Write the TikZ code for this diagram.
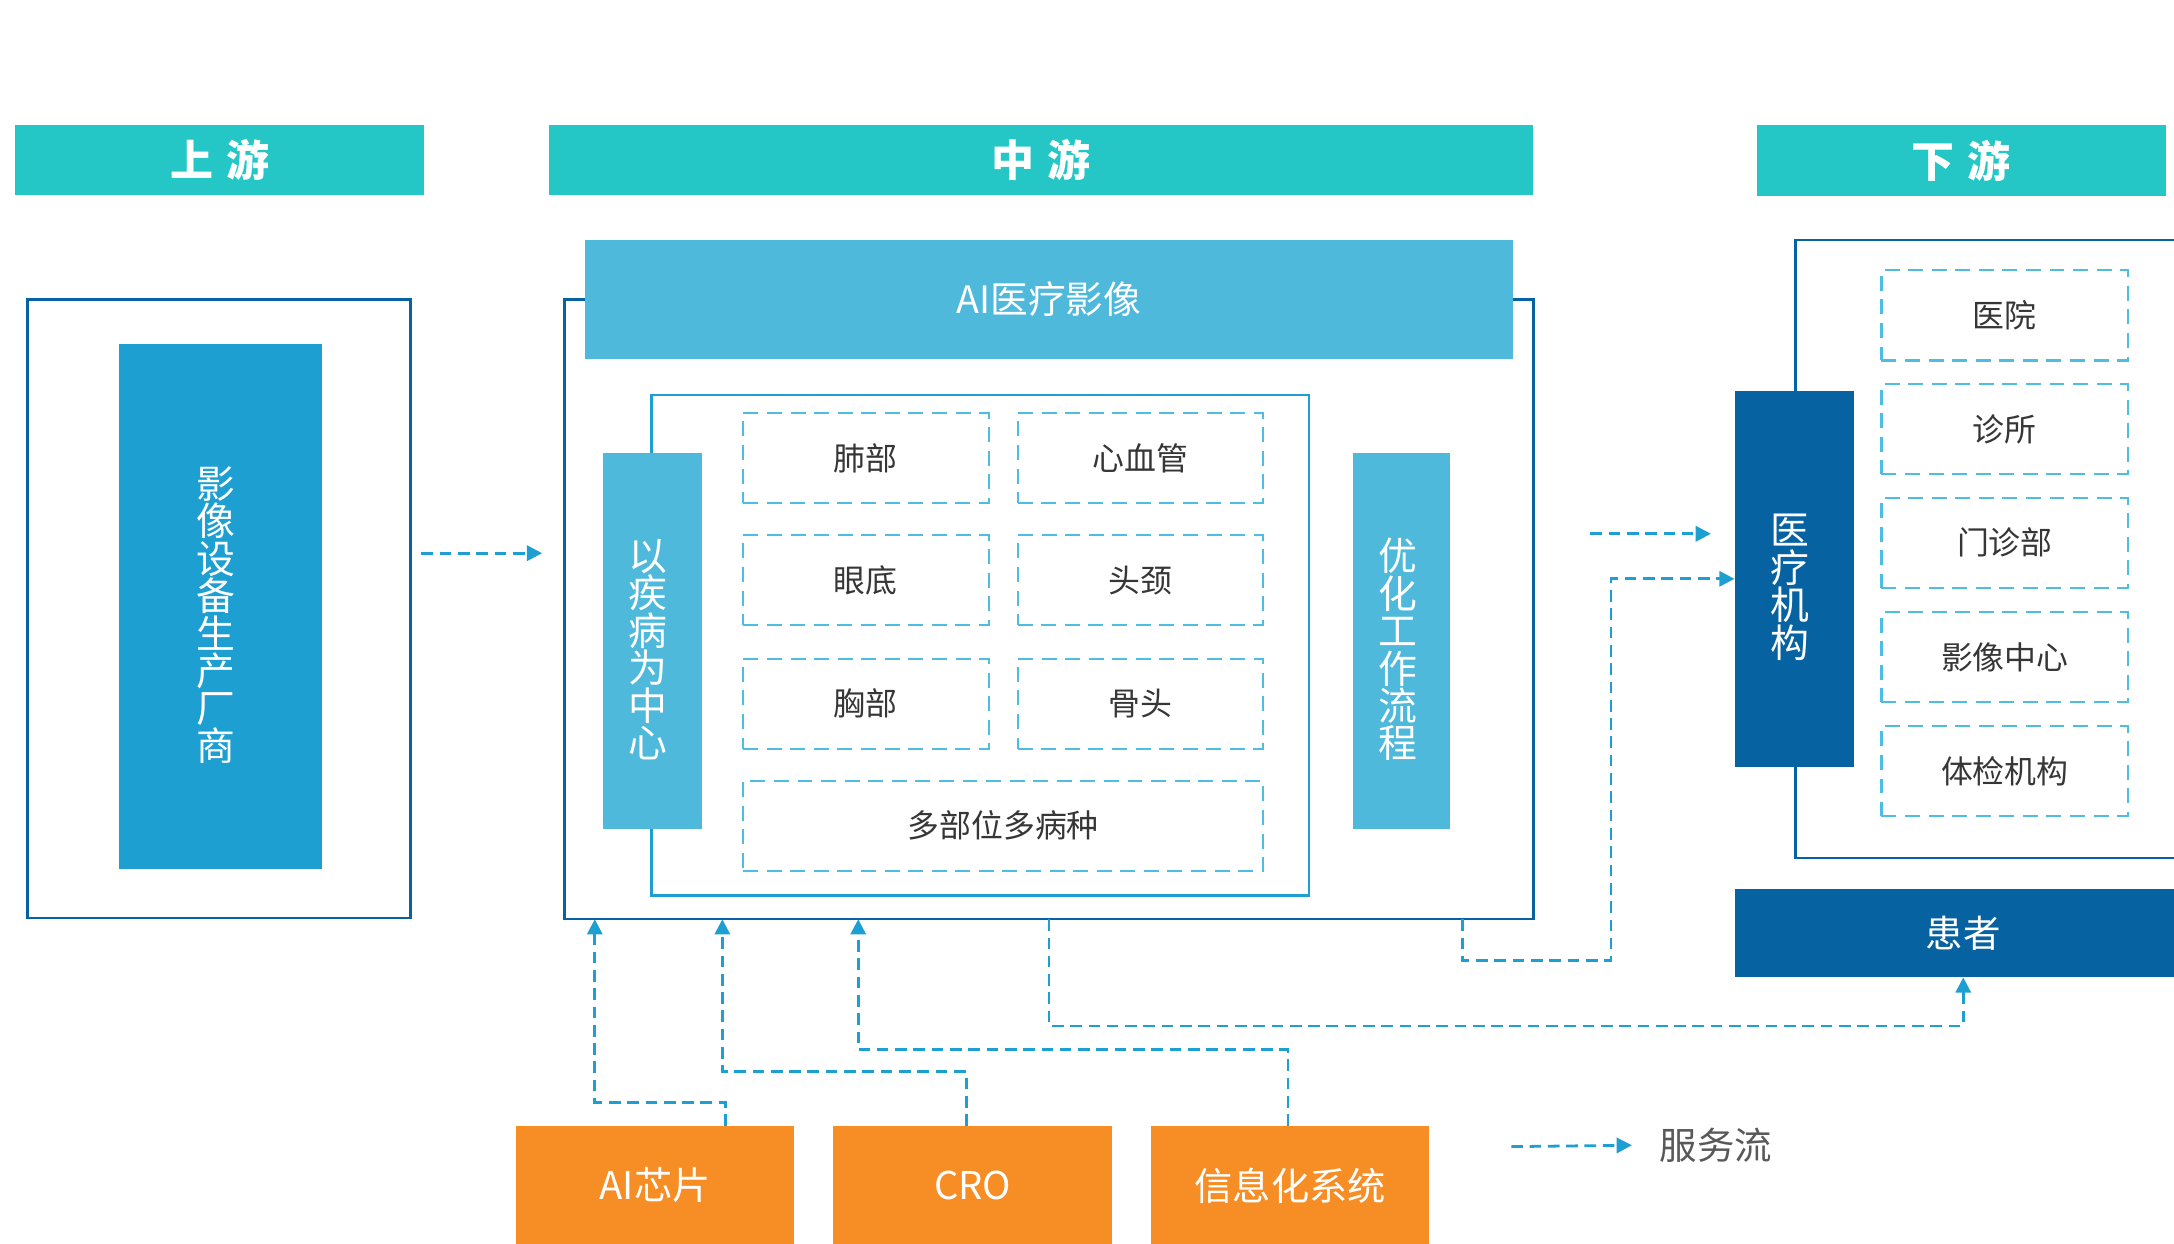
\documentclass[tikz,border=0pt]{standalone}
\usepackage{fontspec}
\newfontfamily\cjk{Noto Sans CJK SC}
\usetikzlibrary{arrows.meta,calc}

\definecolor{hdrteal}{HTML}{24C6C6}
\definecolor{makerblue}{HTML}{1E9FD2}
\definecolor{lightblue}{HTML}{4FB9DC}
\definecolor{deepblue}{HTML}{0662A0}
\definecolor{flowblue}{HTML}{1E9FD2}
\definecolor{cellblue}{HTML}{4DBDE2}
\definecolor{partnerorange}{HTML}{F68D25}
\definecolor{celltext}{HTML}{363636}
\definecolor{legendgray}{HTML}{595959}

\tikzset{
  every node/.style={inner sep=0pt, outer sep=0pt},
  sz/.style 2 args={minimum width=#1*0.5pt, minimum height=#2*0.5pt},
  hdr/.style={fill=hdrteal, text=white, font=\cjk\bfseries\fontsize{15.5}{18}\selectfont},
  frame/.style={draw=deepblue, line width=0.9pt, fill=white},
  innerframe/.style={draw=makerblue, line width=0.9pt, fill=white},
  vtext/.style={text=white, align=center, xshift=-1.5pt, yshift=-3pt,
    font=\cjk\fontsize{14}{13.5}\selectfont},
  maker/.style={fill=makerblue},
  bar/.style={fill=lightblue},
  orgbar/.style={fill=deepblue},
  banner/.style={fill=lightblue, text=white, font=\cjk\fontsize{13.6}{16}\selectfont},
  cell/.style={draw=cellblue, line width=0.75pt, dash pattern=on 5.4pt off 3.1pt,
    text=celltext, font=\cjk\fontsize{11.5}{14}\selectfont},
  patientbox/.style={fill=deepblue, text=white, font=\cjk\fontsize{13.5}{16}\selectfont},
  partner/.style={fill=partnerorange, text=white, font=\cjk\fontsize{13.8}{16}\selectfont},
  flow/.style={draw=flowblue, line width=1pt, dash pattern=on 4.2pt off 2.4pt,
    -{Triangle[length=5.5pt, width=5.5pt]}},
}

\begin{document}
\begin{tikzpicture}[x=0.5pt, y=-0.5pt]
\useasboundingbox (0,0) rectangle (1568,897);
\clip (0,0) rectangle (1568,897);

% section headers
\node[hdr, sz={295}{51}] (hUp) at (158.5,115.5) {上\hspace{0.3em}游};
\node[hdr, sz={710}{51}] (hMid) at (751,115.5) {中\hspace{0.3em}游};
\node[hdr, sz={295}{51}] (hDown) at (1414.5,116) {下\hspace{0.3em}游};

% upstream
\node[frame, sz={276}{446}] (upBox) at (158,439) {};
\node[maker, sz={146}{379},
  label={[vtext]center:影\\像\\设\\备\\生\\产\\厂\\商}] (maker) at (159,437.5) {};

% midstream
\node[frame, sz={699}{447}] (midBox) at (756.5,439.5) {};
\node[banner, sz={669}{86}] (aiImg) at (756.5,216) {AI医疗影像};
\node[innerframe, sz={474}{361}] (inBox) at (707,465.5) {};
\node[bar, sz={71}{271},
  label={[vtext]center:以\\疾\\病\\为\\中\\心}] (disease) at (470.5,462.5) {};
\node[bar, sz={70}{271},
  label={[vtext]center:优\\化\\工\\作\\流\\程}] (workflow) at (1011,462.5) {};

\node[cell, sz={177}{65}] (fei)   at (624.5,330.5) {肺部};
\node[cell, sz={177}{65}] (xin)   at (822.5,330.5) {心血管};
\node[cell, sz={177}{65}] (yan)   at (624.5,418.5) {眼底};
\node[cell, sz={177}{65}] (tou)   at (822.5,418.5) {头颈};
\node[cell, sz={177}{65}] (xiong) at (624.5,507.5) {胸部};
\node[cell, sz={177}{65}] (gu)    at (822.5,507.5) {骨头};
\node[cell, sz={375}{65}] (duo)   at (723.5,595.5) {多部位多病种};

% downstream
\node[frame, sz={300}{446}] (downBox) at (1445,396) {};
\node[orgbar, sz={86}{271},
  label={[vtext]center:医\\疗\\机\\构}] (org) at (1294,417.5) {};
\node[cell, sz={178}{65}] (yiyuan)  at (1446,227.5) {医院};
\node[cell, sz={178}{65}] (zhensuo) at (1446,309.5) {诊所};
\node[cell, sz={178}{65}] (menzhen) at (1446,391.5) {门诊部};
\node[cell, sz={178}{65}] (yingxiang) at (1446,474) {影像中心};
\node[cell, sz={178}{65}] (tijian)  at (1446,556) {体检机构};
\node[patientbox, sz={330}{64}] (patient) at (1416,673) {患者};

% supporting suppliers
\node[partner, sz={201}{86}] (chip) at (472.5,855) {AI芯片};
\node[partner, sz={201}{86}] (cro)  at (701.5,855) {CRO};
\node[partner, sz={201}{86}] (info) at (930.5,855) {信息化系统};

% service flows
\draw[flow] ($(upBox.east)+(8,-40)$) -- ($(midBox.west)+(-16,-40.5)$);
\draw[flow] ($(midBox.east)+(41,-54.5)$) -- ($(org.west)+(-17,-32.5)$);

\coordinate (turnA) at (1162,693);
\draw[flow] ($(midBox.south)+(298.5,0)$) |- (turnA) |- (org.west);

\draw[flow] (midBox.south) |- (patient.south |- 0,740) -- (patient.south);

\draw[flow] ($(chip.north)+(50.5,0)$) -- ++(0,-17) -| ($(midBox.south west)+(22,0)$);
\draw[flow] ($(cro.north)+(-4.5,0)$) -- ++(0,-39) -| ($(midBox.south west)+(114,0)$);
\draw[flow] ($(info.north)+(-1.5,0)$) -- ++(0,-55) -| ($(midBox.south west)+(212,0)$);

% legend
\coordinate (legA) at (1090,827);
\node[text=legendgray, font=\cjk\fontsize{13.5}{16}\selectfont, inner sep=3.5pt, anchor=west] (legend) at (1190,826) {服务流};
\draw[flow] (legA) -- ($(legend.west)+(-13,0)$);

\end{tikzpicture}
\end{document}
